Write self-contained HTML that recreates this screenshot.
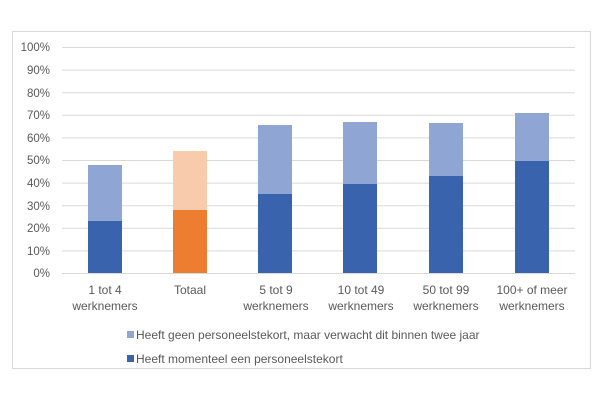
<!DOCTYPE html><html><head><style>body{margin:0;background:#fff}svg text{font-family:"Liberation Sans",sans-serif;fill:#595959}</style></head><body>
<svg width="600" height="400" xmlns="http://www.w3.org/2000/svg">
<rect x="12.5" y="31.5" width="578" height="337" fill="#fff" stroke="#d9d9d9"/>
<g stroke="#d9d9d9" stroke-width="1">
<line x1="62" x2="575" y1="273.5" y2="273.5"/><line x1="62" x2="575" y1="250.9" y2="250.9"/><line x1="62" x2="575" y1="228.3" y2="228.3"/><line x1="62" x2="575" y1="205.7" y2="205.7"/><line x1="62" x2="575" y1="183.1" y2="183.1"/><line x1="62" x2="575" y1="160.5" y2="160.5"/><line x1="62" x2="575" y1="137.9" y2="137.9"/><line x1="62" x2="575" y1="115.3" y2="115.3"/><line x1="62" x2="575" y1="92.7" y2="92.7"/><line x1="62" x2="575" y1="70.1" y2="70.1"/><line x1="62" x2="575" y1="47.5" y2="47.5"/>
</g>
<g font-size="11.5" text-anchor="end">
<text x="50" y="277">0%</text><text x="50" y="255">10%</text><text x="50" y="232">20%</text><text x="50" y="210">30%</text><text x="50" y="187">40%</text><text x="50" y="164">50%</text><text x="50" y="142">60%</text><text x="50" y="119">70%</text><text x="50" y="97">80%</text><text x="50" y="74">90%</text><text x="50" y="51">100%</text>
</g>
<rect x="88" y="165" width="34" height="57" fill="#8fa5d3"/><rect x="88" y="221" width="34" height="52" fill="#3a63ad"/>
<rect x="173" y="151" width="34" height="60" fill="#f8cbad"/><rect x="173" y="210" width="34" height="63" fill="#ed7d31"/>
<rect x="258" y="125" width="34" height="70" fill="#8fa5d3"/><rect x="258" y="194" width="34" height="79" fill="#3a63ad"/>
<rect x="343" y="122" width="34" height="63" fill="#8fa5d3"/><rect x="343" y="184" width="34" height="89" fill="#3a63ad"/>
<rect x="429" y="123" width="34" height="54" fill="#8fa5d3"/><rect x="429" y="176" width="34" height="97" fill="#3a63ad"/>
<rect x="515" y="113" width="34" height="50" fill="#8fa5d3"/><rect x="515" y="161" width="34" height="112" fill="#3a63ad"/>
<g font-size="12" text-anchor="middle">
<text x="105" y="294">1 tot 4</text><text x="105" y="310">werknemers</text>
<text x="190" y="294">Totaal</text>
<text x="276" y="294">5 tot 9</text><text x="276" y="310">werknemers</text>
<text x="361" y="294">10 tot 49</text><text x="361" y="310">werknemers</text>
<text x="446" y="294">50 tot 99</text><text x="446" y="310">werknemers</text>
<text x="532" y="294">100+ of meer</text><text x="532" y="310">werknemers</text>
</g>
<rect x="127" y="331" width="7" height="7" fill="#8fa5d3"/><text x="136" y="339" font-size="12">Heeft geen personeelstekort, maar verwacht dit binnen twee jaar</text>
<rect x="127" y="355" width="7" height="7" fill="#3a63ad"/><text x="136" y="363" font-size="12">Heeft momenteel een personeelstekort</text>
</svg></body></html>
